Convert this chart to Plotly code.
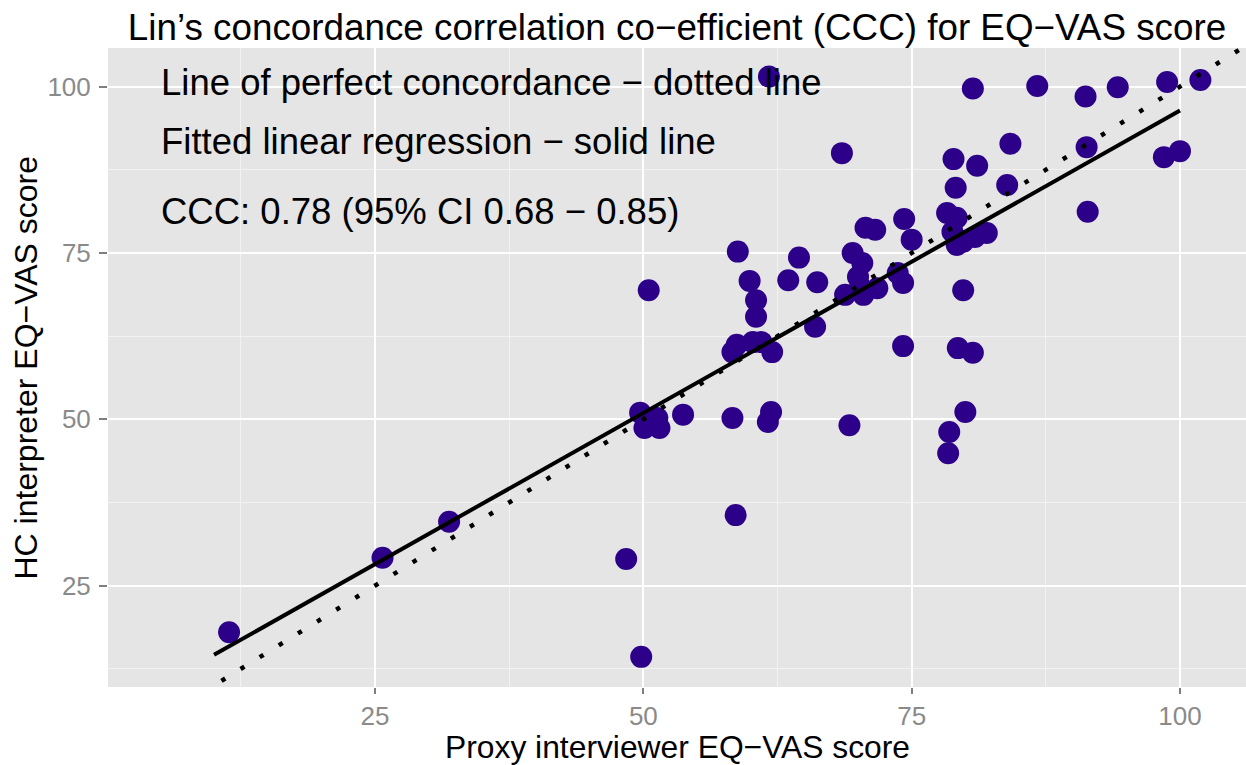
import plotly.graph_objects as go

# Data (proxy interviewer vs HC interpreter EQ-VAS)
proxy_score = [11.4, 25.7, 31.9, 48.4, 49.8, 58.6, 49.7, 50.1, 51.5, 51.3,
               53.7, 58.3, 61.9, 61.6, 69.2, 78.5, 78.4, 80.0, 58.3, 58.7,
               60.2, 61.0, 62.0, 74.2, 79.3, 80.7, 66.0, 60.5, 60.5, 50.5,
               59.9, 63.5, 66.2, 58.8, 64.5, 69.5, 70.4, 70.0, 70.2, 71.8,
               68.8, 70.5, 73.7, 74.2, 79.8, 70.7, 71.6, 74.3, 75.0, 78.3,
               79.2, 78.8, 79.8, 80.9, 82.0, 79.2, 79.1, 83.9, 78.9, 81.1,
               84.2, 68.5, 91.3, 91.4, 98.5, 100.0, 61.7, 80.7, 86.7, 91.2,
               94.2, 98.8, 101.9]
hc_score = [18.0, 29.2, 34.6, 29.0, 14.3, 35.6, 51.0, 48.7, 48.7, 50.2,
            50.7, 50.2, 51.1, 49.6, 49.1, 48.1, 44.9, 51.1, 60.1, 61.2,
            61.6, 61.6, 60.1, 61.0, 60.7, 60.0, 63.9, 65.4, 67.9, 69.4,
            70.8, 70.9, 70.6, 75.2, 74.3, 75.0, 73.5, 71.4, 69.9, 69.7,
            68.7, 68.7, 72.0, 70.5, 69.4, 78.8, 78.5, 80.1, 77.0, 81.0,
            80.3, 78.2, 76.7, 77.4, 78.0, 76.2, 84.8, 85.2, 89.1, 88.1,
            91.4, 90.0, 90.9, 81.2, 89.4, 90.3, 101.5, 99.7, 100.1, 98.5,
            99.9, 100.7, 101.0]

# Fitted linear regression (endpoints of the drawn line)
fit_x = [10.0, 100.0]
fit_y = [14.6, 96.4]

# Line of perfect concordance y = x
perfect_x = [0.0, 110.0]
perfect_y = [0.0, 110.0]

x_ticks = [25, 50, 75, 100]
y_ticks = [25, 50, 75, 100]
minor_ticks = [12.5, 37.5, 62.5, 87.5]

notes = ["Line of perfect concordance \u2212 dotted line",
         "Fitted linear regression \u2212 solid line",
         "CCC: 0.78 (95% CI 0.68 \u2212 0.85)"]
note_y = [100.6, 91.8, 81.2]
note_x = 4.85

FONT = "Liberation Sans, Arial, sans-serif"

fig = go.Figure()
fig.add_trace(go.Scatter(
    x=proxy_score, y=hc_score, mode="markers",
    marker=dict(size=22, color="#2D0089", line=dict(width=0)),
    hoverinfo="x+y", showlegend=False))
fig.add_trace(go.Scatter(
    x=perfect_x, y=perfect_y, mode="lines",
    line=dict(color="black", width=4.5, dash="4.5px,18px"),
    showlegend=False, hoverinfo="skip"))
fig.add_trace(go.Scatter(
    x=fit_x, y=fit_y, mode="lines",
    line=dict(color="black", width=4),
    showlegend=False, hoverinfo="skip"))

for txt, yy in zip(notes, note_y):
    fig.add_annotation(x=note_x, y=yy, xref="x", yref="y", text=txt,
                       showarrow=False, xanchor="left", yanchor="middle",
                       font=dict(family=FONT, size=36.5, color="black"))

# axis titles as annotations for exact placement
fig.add_annotation(x=0.5, y=0, xref="paper", yref="paper",
                   text="Proxy interviewer EQ\u2212VAS score", showarrow=False,
                   xanchor="center", yanchor="middle", yshift=-60,
                   font=dict(family=FONT, size=31.8, color="black"))
fig.add_annotation(x=0, y=0.5, xref="paper", yref="paper",
                   text="HC interpreter EQ\u2212VAS score", showarrow=False,
                   textangle=-90, xanchor="center", yanchor="middle", xshift=-83,
                   font=dict(family=FONT, size=32, color="black"))

axis_common = dict(
    showgrid=True, gridcolor="white", gridwidth=2, zeroline=False,
    showline=False, ticks="outside", tickwidth=1.5,
    tickcolor="#7F7F7F", tickfont=dict(family=FONT, size=26, color="#8A8A8A"),
    minor=dict(tickmode="array", tickvals=minor_ticks, showgrid=True,
               gridcolor="#F2F2F2", gridwidth=1, ticks=""),
)

fig.update_layout(
    width=1246, height=765,
    margin=dict(l=108, r=0, t=48, b=78),
    paper_bgcolor="white", plot_bgcolor="#E5E5E5",
    title=dict(text="Lin\u2019s concordance correlation co\u2212efficient (CCC) for EQ\u2212VAS score",
               x=0.5, xref="paper", xanchor="center",
               y=1 - 27 / 765, yref="container", yanchor="middle",
               font=dict(family=FONT, size=36.8, color="black")),
    xaxis=dict(range=[0.12, 106.15], tickmode="array", tickvals=x_ticks,
               ticklen=6, **axis_common),
    yaxis=dict(range=[9.77, 105.8], tickmode="array", tickvals=y_ticks,
               ticklen=8, ticklabelstandoff=3, **axis_common),
)

fig.write_html("out.html",
               config={"displayModeBar": False},
               post_script="document.body.style.margin='0';"
                           "document.body.style.overflow='hidden';")
